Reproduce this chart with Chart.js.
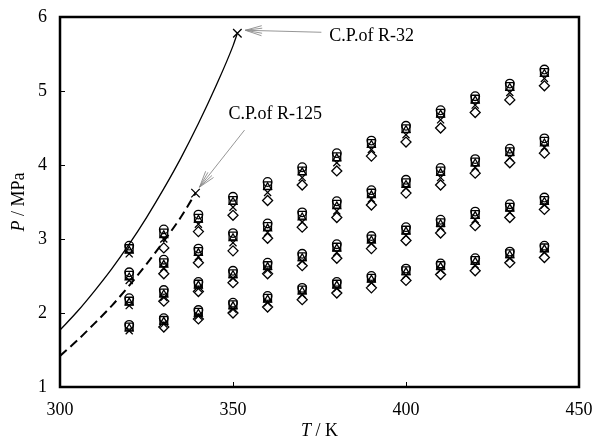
<!DOCTYPE html>
<html>
<head>
<meta charset="utf-8">
<script src="https://cdn.jsdelivr.net/npm/chart.js@4.4.0/dist/chart.umd.min.js"></script>
<style>
body { margin: 0; background: #fff; }
</style>
</head>
<body>
<canvas id="can" width="592" height="438"></canvas>
<script>

// temperatures of the measured points (K)
const temps = [320, 330, 340, 350, 360, 370, 380, 390, 400, 410, 420, 430, 440]

// pressures (MPa), four mixtures per marker type, one value per temperature
const pCircle = [
    [2.91, 3.13, 3.33, 3.57, 3.77, 3.97, 4.16, 4.33, 4.53, 4.74, 4.93, 5.10, 5.29],
    [2.55, 2.72, 2.87, 3.08, 3.21, 3.36, 3.51, 3.66, 3.80, 3.96, 4.08, 4.22, 4.36],
    [2.20, 2.31, 2.42, 2.57, 2.68, 2.80, 2.93, 3.04, 3.16, 3.26, 3.37, 3.47, 3.56],
    [1.84, 1.93, 2.04, 2.14, 2.23, 2.34, 2.42, 2.50, 2.60, 2.67, 2.74, 2.83, 2.91]
]
const pSquare = [
    [2.87, 3.08, 3.28, 3.52, 3.72, 3.92, 4.11, 4.29, 4.49, 4.70, 4.89, 5.06, 5.25],
    [2.51, 2.68, 2.83, 3.04, 3.17, 3.32, 3.47, 3.62, 3.76, 3.92, 4.04, 4.18, 4.32],
    [2.16, 2.27, 2.39, 2.53, 2.64, 2.76, 2.89, 3.00, 3.12, 3.22, 3.33, 3.43, 3.52],
    [1.81, 1.90, 2.01, 2.11, 2.20, 2.31, 2.39, 2.47, 2.57, 2.64, 2.71, 2.80, 2.88]
]
const pTriangle = [
    [2.84, 3.05, 3.26, 3.50, 3.70, 3.90, 4.09, 4.27, 4.47, 4.68, 4.87, 5.04, 5.23],
    [2.48, 2.65, 2.81, 3.01, 3.14, 3.29, 3.44, 3.59, 3.73, 3.89, 4.02, 4.16, 4.29],
    [2.14, 2.25, 2.37, 2.51, 2.62, 2.74, 2.87, 2.98, 3.10, 3.20, 3.31, 3.41, 3.50],
    [1.79, 1.88, 1.99, 2.09, 2.18, 2.29, 2.37, 2.45, 2.55, 2.62, 2.69, 2.78, 2.86]
]
const pCross = [
    [2.80, 3.00, 3.20, 3.43, 3.63, 3.83, 4.03, 4.21, 4.41, 4.61, 4.81, 4.98, 5.17],
    [2.44, 2.61, 2.76, 2.95, 3.09, 3.23, 3.38, 3.54, 3.69, 3.83, 3.97, 4.10, 4.24],
    [2.10, 2.21, 2.33, 2.47, 2.58, 2.70, 2.82, 2.94, 3.05, 3.16, 3.26, 3.36, 3.46],
    [1.76, 1.85, 1.96, 2.05, 2.14, 2.25, 2.33, 2.41, 2.51, 2.58, 2.65, 2.74, 2.82]
]
const pDiamond = [
    [null, 2.88, 3.10, 3.32, 3.52, 3.73, 3.92, 4.12, 4.31, 4.50, 4.71, 4.88, 5.07],
    [null, 2.53, 2.68, 2.84, 3.01, 3.16, 3.29, 3.46, 3.62, 3.73, 3.89, 4.03, 4.16],
    [null, 2.16, 2.29, 2.41, 2.53, 2.64, 2.74, 2.87, 2.98, 3.08, 3.18, 3.29, 3.40],
    [null, 1.81, 1.92, 2.00, 2.08, 2.18, 2.27, 2.34, 2.44, 2.52, 2.57, 2.68, 2.75]
]

// vapour pressure curves of the pure components, ending at the critical point
const tR32 = [300, 305, 310, 315, 320, 325, 330, 335, 340, 345, 350, 351.26]
const pR32 = [1.77, 2.02, 2.30, 2.60, 2.93, 3.29, 3.68, 4.10, 4.56, 5.06, 5.61, 5.78]
const tR125 = [300, 305, 310, 315, 320, 325, 330, 335, 339.17]
const pR125 = [1.42, 1.63, 1.86, 2.10, 2.37, 2.66, 2.97, 3.30, 3.62]

const xTicks = [300, 350, 400, 450]
const yTicks = [1, 2, 3, 4, 5, 6]

const serif = "'Liberation Serif', 'DejaVu Serif', serif"


function tocke(grupe) {
    let out = []
    grupe.forEach(g => {
        g.forEach((p, i) => {
            if (p !== null) out.push({ x: temps[i], y: p })
        })
    })
    return out
}

function kriva(t, p) {
    return t.map((v, i) => ({ x: v, y: p[i] }))
}

function markeri(data, stil, r) {
    return {
        type: 'scatter',
        data: data,
        pointStyle: stil,
        pointRadius: r,
        pointHoverRadius: r,
        borderColor: '#000',
        backgroundColor: 'rgba(0,0,0,0)',
        pointBorderWidth: 1.3,
        showLine: false
    }
}

const n32 = tR32.length - 1
const n125 = tR125.length - 1

// frame, inner ticks, axis titles and the C.P. notes
const okvir = {
    id: 'okvir',
    afterDraw(chart) {
        const ctx = chart.ctx
        const a = chart.chartArea
        const xs = chart.scales.x
        const ys = chart.scales.y
        ctx.save()

        ctx.strokeStyle = '#000'
        ctx.lineWidth = 1
        ctx.beginPath()
        xTicks.forEach(v => {
            let px = Math.round(xs.getPixelForValue(v)) + 0.5
            ctx.moveTo(px, a.bottom)
            ctx.lineTo(px, a.bottom - 5)
        })
        yTicks.forEach(v => {
            let py = Math.round(ys.getPixelForValue(v)) + 0.5
            ctx.moveTo(a.left, py)
            ctx.lineTo(a.left + 5, py)
        })
        ctx.stroke()

        ctx.lineWidth = 2.5
        ctx.strokeRect(a.left, a.top, a.right - a.left, a.bottom - a.top)

        // axis titles
        ctx.fillStyle = '#000'
        ctx.textBaseline = 'middle'
        let t1 = 'T', t2 = ' / K'
        ctx.font = 'italic 18px ' + serif
        let w1 = ctx.measureText(t1).width
        ctx.font = '18px ' + serif
        let w2 = ctx.measureText(t2).width
        let cx = (a.left + a.right) / 2 - (w1 + w2) / 2
        ctx.textAlign = 'left'
        ctx.font = 'italic 18px ' + serif
        ctx.fillText(t1, cx, 431)
        ctx.font = '18px ' + serif
        ctx.fillText(t2, cx + w1, 431)

        ctx.save()
        ctx.translate(19, (a.top + a.bottom) / 2)
        ctx.rotate(-Math.PI / 2)
        let y1 = 'P', y2 = ' / MPa'
        ctx.font = 'italic 18px ' + serif
        w1 = ctx.measureText(y1).width
        ctx.font = '18px ' + serif
        w2 = ctx.measureText(y2).width
        ctx.font = 'italic 18px ' + serif
        ctx.fillText(y1, -(w1 + w2) / 2, 0)
        ctx.font = '18px ' + serif
        ctx.fillText(y2, -(w1 + w2) / 2 + w1, 0)
        ctx.restore()

        // notes with arrows
        const cp32 = { x: xs.getPixelForValue(tR32[n32]), y: ys.getPixelForValue(pR32[n32]) }
        const cp125 = { x: xs.getPixelForValue(tR125[n125]), y: ys.getPixelForValue(pR125[n125]) }

        ctx.font = '18px ' + serif
        ctx.textAlign = 'left'
        ctx.textBaseline = 'alphabetic'
        ctx.fillText('C.P.of R-32', cp32.x + 92, cp32.y + 8)
        ctx.fillText('C.P.of R-125', cp125.x + 33, cp125.y - 74)

        strelica(ctx, cp32.x + 84, cp32.y - 1, cp32.x + 8, cp32.y - 3)
        strelica(ctx, cp125.x + 49, cp125.y - 63, cp125.x + 4, cp125.y - 6)

        ctx.restore()
    }
}

function strelica(ctx, x0, y0, x1, y1) {
    ctx.strokeStyle = '#8a8a8a'
    ctx.lineWidth = 0.9
    ctx.beginPath()
    ctx.moveTo(x0, y0)
    ctx.lineTo(x1, y1)
    let ang = Math.atan2(y0 - y1, x0 - x1)
    let len = 17
    for (let d of [-0.3, -0.15, 0.15, 0.3]) {
        ctx.moveTo(x1, y1)
        ctx.lineTo(x1 + len * Math.cos(ang + d), y1 + len * Math.sin(ang + d))
    }
    ctx.stroke()
}


const config = {
    type: 'scatter',
    data: {
        datasets: [
            {
                type: 'line',
                data: kriva(tR32, pR32),
                borderColor: '#000',
                borderWidth: 1.3,
                pointRadius: 0,
                cubicInterpolationMode: 'monotone',
                fill: false
            },
            {
                type: 'line',
                data: kriva(tR125, pR125),
                borderColor: '#000',
                borderWidth: 2,
                borderDash: [9, 5],
                pointRadius: 0,
                cubicInterpolationMode: 'monotone',
                fill: false
            },
            markeri([{ x: tR32[n32], y: pR32[n32] }, { x: tR125[n125], y: pR125[n125] }], 'crossRot', 6),
            markeri(tocke(pDiamond), 'rectRot', 5),
            markeri(tocke(pCross), 'crossRot', 5),
            markeri(tocke(pTriangle), 'triangle', 4.5),
            markeri(tocke(pSquare), 'rect', 5.5),
            markeri(tocke(pCircle), 'circle', 4.3)
        ]
    },
    options: {
        responsive: false,
        animation: false,
        layout: { padding: { top: 17, right: 13, left: 0, bottom: 0 } },
        plugins: {
            legend: { display: false },
            tooltip: { enabled: false }
        },
        scales: {
            x: {
                type: 'linear',
                min: 300,
                max: 450,
                grid: { display: false, drawTicks: false },
                border: { display: false },
                afterBuildTicks: s => { s.ticks = xTicks.map(v => ({ value: v })) },
                afterFit: s => { s.height = 51; s.paddingLeft = 0; s.paddingRight = 0 },
                ticks: { color: '#000', padding: 12, maxRotation: 0, font: { family: serif, size: 18 } }
            },
            y: {
                type: 'linear',
                min: 1,
                max: 6,
                grid: { display: false, drawTicks: false },
                border: { display: false },
                afterBuildTicks: s => { s.ticks = yTicks.map(v => ({ value: v })) },
                afterFit: s => { s.width = 60; s.paddingTop = 0; s.paddingBottom = 0 },
                ticks: { color: '#000', padding: 13, font: { family: serif, size: 18 } }
            }
        }
    },
    plugins: [okvir]
}

let chart = new Chart(document.getElementById('can'), config)

</script>
</body>
</html>
